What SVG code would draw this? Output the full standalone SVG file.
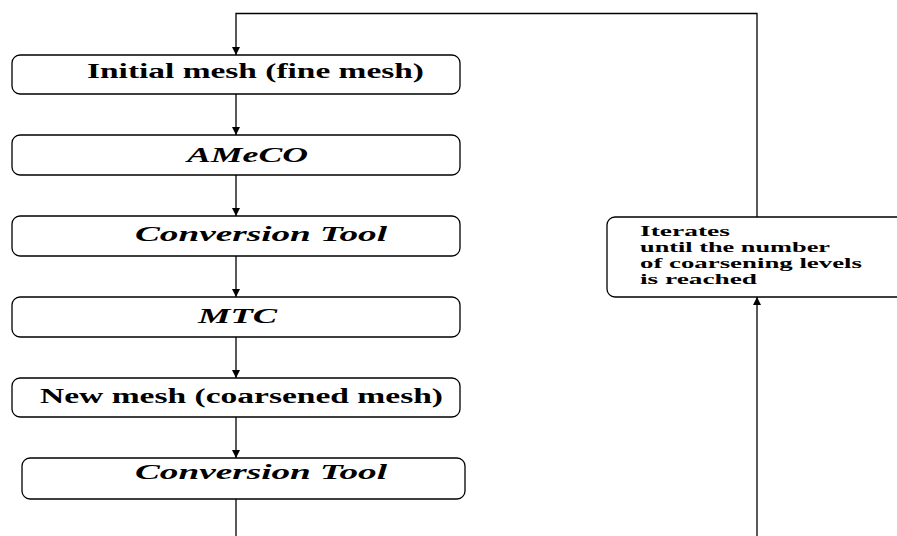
<svg xmlns="http://www.w3.org/2000/svg" width="897" height="536" viewBox="0 0 897 536">
<style>
.box{fill:#fff;stroke:#000;stroke-width:1.3}
.t{font-family:"Liberation Serif","Times New Roman",serif;font-weight:bold;font-size:20px;fill:#000}
.i{font-style:italic}
.s{font-size:14.5px}
.c{fill:none;stroke:#000;stroke-width:1.3}
</style>
<defs>
<marker id="ah" viewBox="0 0 10 10" refX="10" refY="5" markerWidth="9" markerHeight="8" markerUnits="userSpaceOnUse" orient="auto">
<path d="M0,0 L10,5 L0,10 z" fill="#000"/>
</marker>
</defs>
<rect width="897" height="536" fill="#fff"/>
<g id="connectors">
<path class="c" d="M757,217 V13.5 H236 V55" marker-end="url(#ah)"/>
<path class="c" d="M236,94 V135" marker-end="url(#ah)"/>
<path class="c" d="M236,175 V216" marker-end="url(#ah)"/>
<path class="c" d="M236,256 V297" marker-end="url(#ah)"/>
<path class="c" d="M236,337 V378" marker-end="url(#ah)"/>
<path class="c" d="M236,417 V458" marker-end="url(#ah)"/>
<path class="c" d="M236,499 V536"/>
<path class="c" d="M757,536 V297" marker-end="url(#ah)"/>
</g>
<g id="n1">
<rect class="box" x="12" y="55" width="448" height="39" rx="8"/>
<text class="t" x="87" y="78" textLength="337" lengthAdjust="spacingAndGlyphs">Initial mesh (fine mesh)</text>
</g>
<g id="n2">
<rect class="box" x="12" y="135" width="448" height="40" rx="8"/>
<text class="t i" x="187" y="162" textLength="121" lengthAdjust="spacingAndGlyphs">AMeCO</text>
</g>
<g id="n3">
<rect class="box" x="12" y="216" width="448" height="40" rx="8"/>
<text class="t i" x="135" y="241" textLength="252" lengthAdjust="spacingAndGlyphs">Conversion Tool</text>
</g>
<g id="n4">
<rect class="box" x="12" y="297" width="448" height="40" rx="8"/>
<text class="t i" x="198" y="323" textLength="79" lengthAdjust="spacingAndGlyphs">MTC</text>
</g>
<g id="n5">
<rect class="box" x="12" y="378" width="448" height="39" rx="8"/>
<text class="t" x="40" y="403" textLength="403" lengthAdjust="spacingAndGlyphs">New mesh (coarsened mesh)</text>
</g>
<g id="n6">
<rect class="box" x="22" y="458" width="443" height="41" rx="8"/>
<text class="t i" x="135" y="479" textLength="252" lengthAdjust="spacingAndGlyphs">Conversion Tool</text>
</g>
<g id="n7">
<rect class="box" x="607" y="217" width="300" height="80" rx="8"/>
<text class="t s" x="640" y="236" textLength="90" lengthAdjust="spacingAndGlyphs">Iterates</text>
<text class="t s" x="640" y="252" textLength="190" lengthAdjust="spacingAndGlyphs">until the number</text>
<text class="t s" x="640" y="268" textLength="222" lengthAdjust="spacingAndGlyphs">of coarsening levels</text>
<text class="t s" x="640" y="284" textLength="117" lengthAdjust="spacingAndGlyphs">is reached</text>
</g>
</svg>
